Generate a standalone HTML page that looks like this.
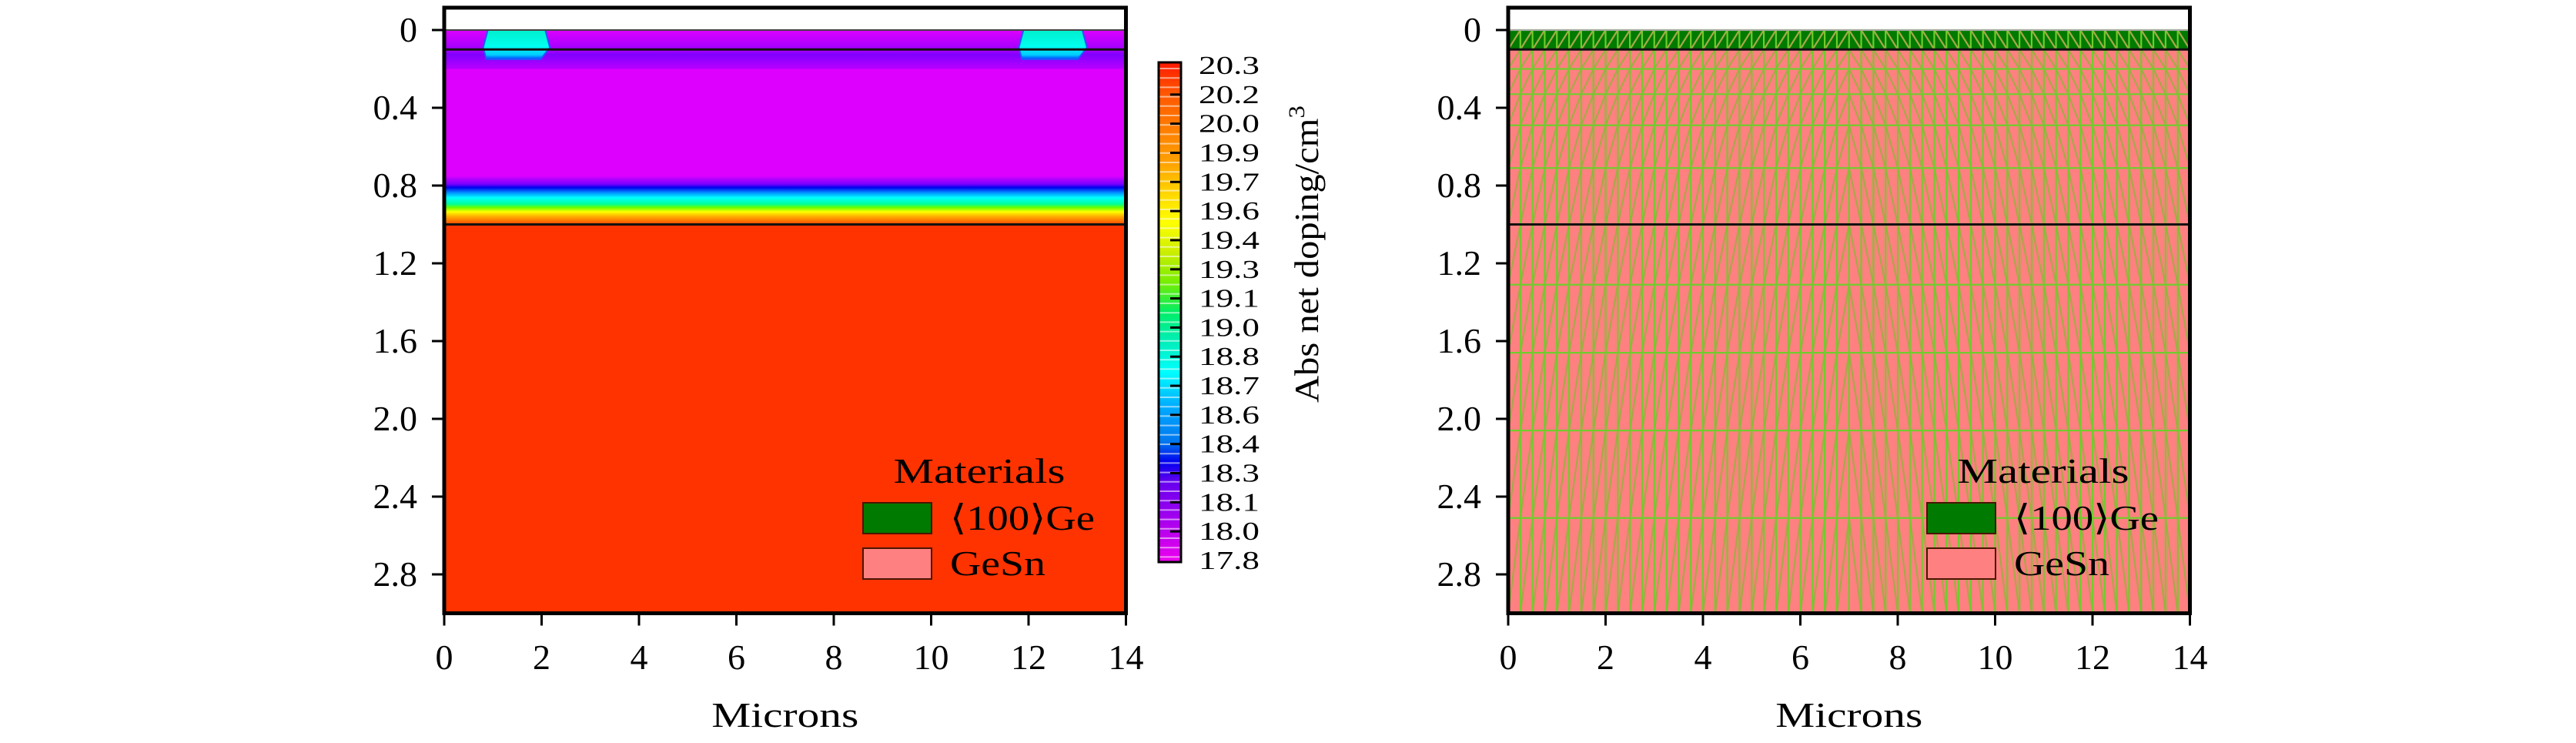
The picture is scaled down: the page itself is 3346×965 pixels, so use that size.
<!DOCTYPE html>
<html><head><meta charset="utf-8"><style>
html,body{margin:0;padding:0;background:#fff;}
svg{display:block;font-family:"Liberation Serif",serif;}
</style></head><body>
<svg id="fig" width="3346" height="965" viewBox="0 0 3346 965" xmlns="http://www.w3.org/2000/svg">
<defs>
<linearGradient id="dopeBand" x1="0" y1="0" x2="0" y2="1">
<stop offset="0" stop-color="#dd00ff"/><stop offset="0.07" stop-color="#b000ff"/>
<stop offset="0.17" stop-color="#7a00ff"/><stop offset="0.24" stop-color="#0000ee"/>
<stop offset="0.34" stop-color="#0088ff"/><stop offset="0.45" stop-color="#00ffff"/>
<stop offset="0.58" stop-color="#00ff99"/><stop offset="0.65" stop-color="#66ff00"/>
<stop offset="0.74" stop-color="#ffff00"/><stop offset="0.84" stop-color="#ffaa00"/>
<stop offset="0.95" stop-color="#ff6600"/><stop offset="1" stop-color="#ff4400"/>
</linearGradient>
<linearGradient id="topBand" x1="0" y1="0" x2="0" y2="1">
<stop offset="0" stop-color="#dd00ff"/><stop offset="0.45" stop-color="#9a00ff"/>
<stop offset="0.5" stop-color="#8000ff"/><stop offset="1" stop-color="#dd00ff"/>
</linearGradient>
<linearGradient id="boxGrad" x1="0" y1="0" x2="0" y2="1">
<stop offset="0" stop-color="#00eecc"/><stop offset="0.55" stop-color="#00ffee"/>
<stop offset="0.85" stop-color="#00ccff"/><stop offset="1" stop-color="#0044ff"/>
</linearGradient>
<linearGradient id="cbGrad" x1="0" y1="0" x2="0" y2="1">
<stop offset="0" stop-color="#ff1a00"/><stop offset="0.06" stop-color="#ff5500"/>
<stop offset="0.12" stop-color="#ff7700"/><stop offset="0.2" stop-color="#ffa000"/>
<stop offset="0.27" stop-color="#ffdd00"/><stop offset="0.32" stop-color="#ffff00"/>
<stop offset="0.38" stop-color="#ccee00"/><stop offset="0.44" stop-color="#77ee00"/>
<stop offset="0.5" stop-color="#00ee66"/><stop offset="0.56" stop-color="#00eebb"/>
<stop offset="0.62" stop-color="#00ffff"/><stop offset="0.69" stop-color="#00aaff"/>
<stop offset="0.76" stop-color="#0077ee"/><stop offset="0.8" stop-color="#0000ee"/>
<stop offset="0.84" stop-color="#6600ee"/><stop offset="0.9" stop-color="#9900ee"/>
<stop offset="1" stop-color="#ee00ee"/>
</linearGradient>
</defs>
<g id="left"></g>
<g id="right"></g>
</svg>
<script>
const xTicks = [0,2,4,6,8,10,12,14];
const yTicks = [0,0.4,0.8,1.2,1.6,2.0,2.4,2.8];
const yTickLabels = ["0","0.4","0.8","1.2","1.6","2.0","2.4","2.8"];
const cbLabels = ["20.3","20.2","20.0","19.9","19.7","19.6","19.4","19.3","19.1","19.0","18.8","18.7","18.6","18.4","18.3","18.1","18.0","17.8"];
const meshRows = [0,0.1,0.2,0.33,0.49,0.71,1.0,1.31,1.66,2.06,2.51,3.0];
const meshColStep = 0.25;
const layerInterfaces = [0.1,1.0];
const contactBoxes = [[0.8,2.17],[11.8,13.2]];

const NS="http://www.w3.org/2000/svg";
const X0=[577,1959], XS=63.25, Y0=39, YS=252.5, YMIN=-0.115, YMAX=3.0;
function mk(parent,tag,attrs,text){const e=document.createElementNS(NS,tag);for(const k in attrs)e.setAttribute(k,attrs[k]);if(text!==undefined)e.textContent=text;parent.appendChild(e);return e;}
function sx(p,v){return X0[p]+v*XS;}
function sy(v){return Y0+v*YS;}

function axes(p,g){
  const L=sx(p,0),R=sx(p,14),T=sy(YMIN),B=sy(YMAX);
  const fr=mk(g,'rect',{x:L,y:T,width:R-L,height:B-T,fill:'none',stroke:'#000','stroke-width':5});
  
  
  xTicks.forEach(v=>{
    const t=mk(g,'line',{x1:sx(p,v),x2:sx(p,v),y1:B,y2:B+16,stroke:'#000','stroke-width':3});
    
    
    const l=mk(g,'text',{x:sx(p,v),y:869,'font-size':46,'text-anchor':'middle'},String(v));
    
    
  });
  yTicks.forEach((v,i)=>{
    const t=mk(g,'line',{x1:L-16,x2:L,y1:sy(v),y2:sy(v),stroke:'#000','stroke-width':3});
    
    
    const l=mk(g,'text',{x:L-35,y:sy(v)+15,'font-size':46,'text-anchor':'end'},yTickLabels[i]);
    
    
  });
  const xt=mk(g,'text',{x:(L+R)/2,y:944,'font-size':46,'text-anchor':'middle',textLength:191,lengthAdjust:'spacingAndGlyphs'},'Microns');
  
  
  // legend
  const lg=mk(g,'g',{});
  
  
  const off=X0[p]-577;
  mk(lg,'text',{x:1272+off,y:627,'font-size':46,'text-anchor':'middle',textLength:223,lengthAdjust:'spacingAndGlyphs'},'Materials');
  const s1=mk(lg,'rect',{x:1121+off,y:653,width:89,height:40,fill:'#007a00',stroke:'#4a1500','stroke-width':2});
  
  
  mk(lg,'text',{x:1234+off,y:688,'font-size':46,textLength:188,lengthAdjust:'spacingAndGlyphs'},'⟨100⟩Ge');
  const s2=mk(lg,'rect',{x:1121+off,y:712,width:89,height:40,fill:'#ff8080',stroke:'#4a1500','stroke-width':2});
  
  
  mk(lg,'text',{x:1234+off,y:747,'font-size':46,textLength:124,lengthAdjust:'spacingAndGlyphs'},'GeSn');
}

// LEFT: doping field
const gl=document.getElementById('left');
(function(){
  const L=sx(0,0),R=sx(0,14),W=R-L;
  mk(gl,'rect',{x:L,y:sy(0),width:W,height:sy(0.25)-sy(0),fill:'url(#topBand)'});
  mk(gl,'rect',{x:L,y:sy(0.2),width:W,height:sy(0.76)-sy(0.2),fill:'#dd00ff'});
  mk(gl,'rect',{x:L,y:sy(0.75),width:W,height:sy(1.0)-sy(0.75),fill:'url(#dopeBand)'});
  const red=mk(gl,'rect',{x:L,y:sy(1.0),width:W,height:sy(YMAX)-sy(1.0),fill:'#ff3300'});
  
  
  contactBoxes.forEach(b=>{
    const x1=sx(0,b[0]),x2=sx(0,b[1]),y1=sy(0),y2=sy(0.15),ym=sy(0.09);
    const pth=mk(gl,'path',{d:`M${x1+6},${y1} L${x2-6},${y1} L${x2},${ym} L${x2-12},${y2} L${x1+4},${y2} L${x1},${ym} Z`,fill:'url(#boxGrad)',stroke:'#2255ff','stroke-width':2});
    
    
  });
  mk(gl,'line',{x1:L,x2:R,y1:sy(0),y2:sy(0),stroke:'#444','stroke-width':2});
  layerInterfaces.forEach(v=>{
    const il=mk(gl,'line',{x1:L,x2:R,y1:sy(v),y2:sy(v),stroke:'#111','stroke-width':3});
    
    
  });
  axes(0,gl);
  // colorbar
  const cb=mk(gl,'g',{});
  
  
  const cT=81,cB=730,cL=1505,cR=1534;
  mk(cb,'rect',{x:cL,y:cT,width:cR-cL,height:cB-cT,fill:'url(#cbGrad)'});
  for(let y=cT+8;y<cB;y+=12.2){mk(cb,'line',{x1:cL,x2:cR,y1:y,y2:y,stroke:'#fff','stroke-opacity':0.55,'stroke-width':2});}
  mk(cb,'rect',{x:cL,y:cT,width:cR-cL,height:cB-cT,fill:'none',stroke:'#000','stroke-width':3});
  const step=(728-85)/(cbLabels.length-1);
  cbLabels.forEach((s,i)=>{
    const y=85+i*step;
    if(i>0&&i<cbLabels.length-1){mk(cb,'line',{x1:cR-14,x2:cR,y1:y,y2:y,stroke:'#000','stroke-width':3});}
    const t=mk(cb,'text',{x:1557,y:y+11,'font-size':34,textLength:79,lengthAdjust:'spacingAndGlyphs'},s);
    
    
  });
  const ct=mk(cb,'text',{x:0,y:0,'font-size':44,'text-anchor':'middle',transform:'translate(1712,330) rotate(-90)',textLength:386,lengthAdjust:'spacingAndGlyphs'});
  
  
  ct.appendChild(document.createTextNode('Abs net doping/cm'));
  const sup=mk(ct,'tspan',{dy:-18,'font-size':30},'3');
})();

// RIGHT: mesh
const gr=document.getElementById('right');
(function(){
  const L=sx(1,0),R=sx(1,14),W=R-L;
  mk(gr,'rect',{x:L,y:sy(0.1),width:W,height:sy(YMAX)-sy(0.1),fill:'#ff8080'});
  const ge=mk(gr,'rect',{x:L,y:sy(0),width:W,height:sy(0.1)-sy(0),fill:'#007a00'});
  
  
  const mesh=mk(gr,'g',{});
  
  
  let d='',dv='';
  const nCols=Math.round(14/meshColStep);
  for(let j=0;j<meshRows.length-1;j++){
    const yt=sy(meshRows[j]),yb=sy(meshRows[j+1]);
    for(let i=0;i<nCols;i++){
      const xa=sx(1,i*meshColStep),xb=sx(1,(i+1)*meshColStep);
      if((i+0.5)*meshColStep<7) d+=`M${xa},${yb}L${xb},${yt}`; else d+=`M${xa},${yt}L${xb},${yb}`;
    }
  }
  for(let i=0;i<=nCols;i++){const x=sx(1,i*meshColStep);dv+=`M${x},${sy(0)}L${x},${sy(YMAX)}`;}
  meshRows.forEach(v=>{dv+=`M${L},${sy(v)}L${R},${sy(v)}`;});
  mk(mesh,'path',{d:d,stroke:'#a8a848','stroke-width':2.2,fill:'none'});
  mk(mesh,'path',{d:dv,stroke:'#70cc2c','stroke-width':2.2,fill:'none'});
  layerInterfaces.forEach(v=>{
    const il=mk(gr,'line',{x1:L,x2:R,y1:sy(v),y2:sy(v),stroke:'#111','stroke-width':3});
    
    
  });
  mk(gr,'line',{x1:L,x2:R,y1:sy(0),y2:sy(0),stroke:'#aaa','stroke-width':2});
  axes(1,gr);
})();
</script>
</body></html>
